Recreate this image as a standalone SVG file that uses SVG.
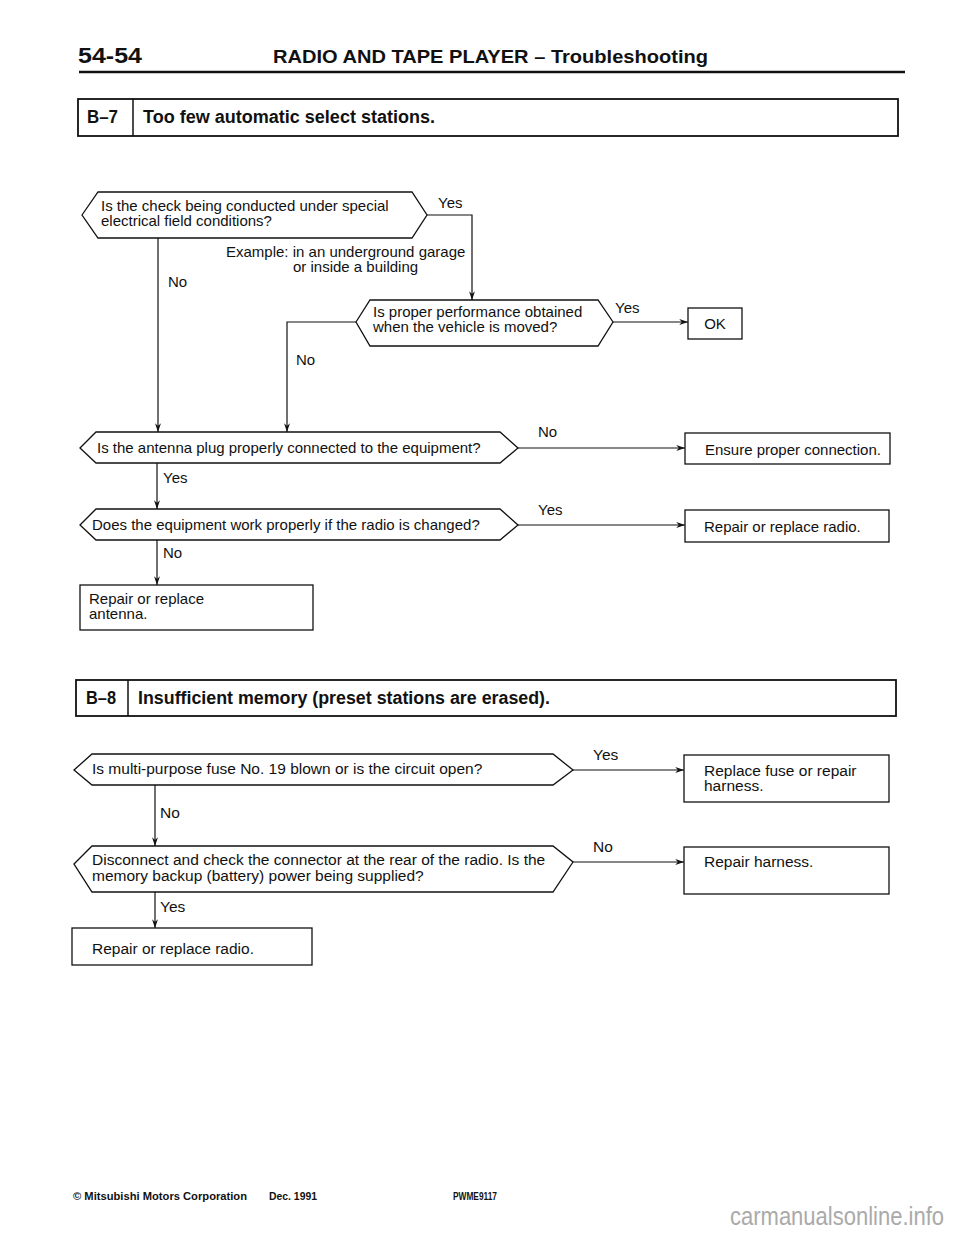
<svg xmlns="http://www.w3.org/2000/svg" width="960" height="1239" viewBox="0 0 960 1239">
<defs>
<marker id="ah" viewBox="0 0 10 8" refX="10" refY="4" markerWidth="9" markerHeight="7" markerUnits="userSpaceOnUse" orient="auto">
<path d="M0,0.6 L10,4 L0,7.4 L3,4 z" fill="#111"/>
</marker>
</defs>
<style>
.t{font-family:"Liberation Sans",Arial,sans-serif;font-size:15px;fill:#111}
.t2{font-family:"Liberation Sans",Arial,sans-serif;font-size:15.5px;fill:#111}
.b{font-family:"Liberation Sans",Arial,sans-serif;font-weight:bold;fill:#111}
.s{fill:#fff;stroke:#111;stroke-width:1.3}
.hb{fill:#fff;stroke:#111;stroke-width:1.8}
.c{fill:none;stroke:#111;stroke-width:1.2}
.a{marker-end:url(#ah)}
</style>
<rect width="960" height="1239" fill="#fff"/>

<g id="header">
<text class="b" x="78" y="63" font-size="22" textLength="64" lengthAdjust="spacingAndGlyphs">54-54</text>
<text class="b" x="273" y="63" font-size="19" textLength="435" lengthAdjust="spacingAndGlyphs">RADIO AND TAPE  PLAYER – Troubleshooting</text>
<line x1="79" y1="72" x2="905" y2="72" stroke="#111" stroke-width="2.5"/>
</g>

<g id="b7-title">
<rect class="hb" x="78" y="99" width="820" height="37"/>
<line x1="133" y1="99" x2="133" y2="136" stroke="#111" stroke-width="1.5"/>
<text class="b" x="87" y="123" font-size="18" textLength="31" lengthAdjust="spacingAndGlyphs">B–7</text>
<text class="b" x="143" y="123" font-size="18" textLength="292" lengthAdjust="spacingAndGlyphs">Too few automatic select stations.</text>
</g>

<g id="connectors">
<path class="c a" d="M427,215 H472 V300"/>
<path class="c a" d="M158,238 V432"/>
<path class="c a" d="M613,322 H688"/>
<path class="c a" d="M356,322 H287 V432"/>
<path class="c a" d="M518,448 H685"/>
<path class="c a" d="M157,463 V509"/>
<path class="c a" d="M518,525 H685"/>
<path class="c a" d="M157,540 V585"/>
<path class="c a" d="M573,770 H684"/>
<path class="c a" d="M155,785 V846"/>
<path class="c a" d="M573,862 H684"/>
<path class="c a" d="M155,892 V928"/>
<text class="t" x="438" y="208">Yes</text>
<text class="t" x="168" y="287">No</text>
<text class="t" x="615" y="313">Yes</text>
<text class="t" x="296" y="365">No</text>
<text class="t" x="538" y="437">No</text>
<text class="t" x="163" y="483">Yes</text>
<text class="t" x="538" y="515">Yes</text>
<text class="t" x="163" y="558">No</text>
<text class="t2" x="593" y="760">Yes</text>
<text class="t2" x="160" y="818">No</text>
<text class="t2" x="593" y="852">No</text>
<text class="t2" x="160" y="912">Yes</text>
</g>

<g id="d1">
<polygon class="s" points="82,215 98,192 412,192 427,215 412,238 98,238"/>
<text class="t" x="101" y="211">Is the check being conducted under special</text>
<text class="t" x="101" y="226">electrical field conditions?</text>
</g>

<g id="note">
<text class="t" x="226" y="257">Example: in an underground garage</text>
<text class="t" x="293" y="272">or inside a building</text>
</g>

<g id="d2">
<polygon class="s" points="356,322 370,300 598,300 613,322 598,346 370,346"/>
<text class="t" x="373" y="317">Is proper performance obtained</text>
<text class="t" x="373" y="332">when the vehicle is moved?</text>
</g>

<g id="ok">
<rect class="s" x="688" y="308" width="54" height="31"/>
<text class="t" x="715" y="329" text-anchor="middle">OK</text>
</g>

<g id="d3">
<polygon class="s" points="80,448 96,432 500,432 518,448 500,463 96,463"/>
<text class="t" x="97" y="453">Is the antenna plug properly connected to the equipment?</text>
</g>

<g id="ensure">
<rect class="s" x="685" y="433" width="205" height="31"/>
<text class="t" x="705" y="455">Ensure proper connection.</text>
</g>

<g id="d4">
<polygon class="s" points="80,525 96,509 500,509 518,525 500,540 96,540"/>
<text class="t" x="92" y="530">Does the equipment work properly if the radio is changed?</text>
</g>

<g id="radio1">
<rect class="s" x="685" y="510" width="204" height="32"/>
<text class="t" x="704" y="532">Repair or replace radio.</text>
</g>

<g id="antenna">
<rect class="s" x="80" y="585" width="233" height="45"/>
<text class="t" x="89" y="604">Repair or replace</text>
<text class="t" x="89" y="619">antenna.</text>
</g>

<g id="b8-title">
<rect class="hb" x="76" y="680" width="820" height="36"/>
<line x1="128" y1="680" x2="128" y2="716" stroke="#111" stroke-width="1.5"/>
<text class="b" x="86" y="704" font-size="18" textLength="30" lengthAdjust="spacingAndGlyphs">B–8</text>
<text class="b" x="138" y="704" font-size="18" textLength="412" lengthAdjust="spacingAndGlyphs">Insufficient memory (preset stations are erased).</text>
</g>

<g id="d5">
<polygon class="s" points="74,770 92,754 553,754 573,770 553,785 92,785"/>
<text class="t2" x="92" y="774">Is multi-purpose fuse No. 19 blown or is the circuit open?</text>
</g>

<g id="fuse">
<rect class="s" x="684" y="755" width="205" height="47"/>
<text class="t2" x="704" y="776">Replace fuse or repair</text>
<text class="t2" x="704" y="791">harness.</text>
</g>

<g id="d6">
<polygon class="s" points="74,864 92,846 553,846 573,862 553,892 92,892"/>
<text class="t2" x="92" y="865">Disconnect and check the connector at the rear of the radio. Is the</text>
<text class="t2" x="92" y="881">memory backup (battery) power being supplied?</text>
</g>

<g id="harness">
<rect class="s" x="684" y="847" width="205" height="47"/>
<text class="t2" x="704" y="867">Repair harness.</text>
</g>

<g id="radio2">
<rect class="s" x="72" y="928" width="240" height="37"/>
<text class="t2" x="92" y="954">Repair or replace radio.</text>
</g>

<g id="footer">
<text class="b" x="73" y="1200" font-size="11" textLength="174" lengthAdjust="spacingAndGlyphs">© Mitsubishi Motors Corporation</text>
<text class="b" x="269" y="1200" font-size="11" textLength="48" lengthAdjust="spacingAndGlyphs">Dec. 1991</text>
<text class="b" x="453" y="1200" font-size="11" textLength="44" lengthAdjust="spacingAndGlyphs">PWME9117</text>
<text x="730" y="1225" font-family="'Liberation Sans',Arial,sans-serif" font-size="25" fill="#aaaaaa" textLength="214" lengthAdjust="spacingAndGlyphs">carmanualsonline.info</text>
</g>
</svg>
